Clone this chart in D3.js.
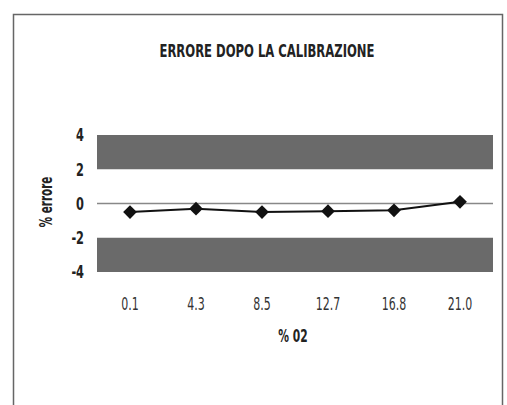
<!DOCTYPE html>
<html><head><meta charset="utf-8">
<script src="https://cdn.jsdelivr.net/npm/d3@7"></script>
<style>body{margin:0;background:#fff}</style>
</head><body>
<svg id="c" width="507" height="405"></svg>
<script>
const categories = ["0.1","4.3","8.5","12.7","16.8","21.0"];
const errors = [-0.5, -0.3, -0.5, -0.45, -0.4, 0.1];
const yTicks = [4, 2, 0, -2, -4];
const bands = [[2,4],[-4,-2]];

const svg = d3.select("#c");
const font = "'DejaVu Sans Condensed','Liberation Sans',sans-serif";
function condense(sel, f){
  sel.each(function(){
    const w = this.getComputedTextLength();
    d3.select(this).attr("textLength", w*f).attr("lengthAdjust","spacingAndGlyphs");
  });
}
svg.append("rect").attr("x",13.5).attr("y",14.5).attr("width",489).attr("height",400)
  .attr("fill","#fff").attr("stroke","#666").attr("stroke-width",1.5);

const m = {l:97, r:493, t:135, b:272};
const x = d3.scaleBand().domain(categories).range([m.l,m.r]);
const y = d3.scaleLinear().domain([-4,4]).range([m.b,m.t]);

bands.forEach(b=>{
  svg.append("rect").attr("x",m.l).attr("width",m.r-m.l)
    .attr("y",y(b[1])).attr("height",y(b[0])-y(b[1])).attr("fill","#6a6a6a");
});
svg.append("line").attr("x1",m.l).attr("x2",m.r).attr("y1",y(0)).attr("y2",y(0))
  .attr("stroke","#888").attr("stroke-width",1.5);

const title = svg.append("text").attr("x",267).attr("y",57).attr("text-anchor","middle")
  .attr("font-family",font).attr("font-weight","bold").attr("font-size",17)
  .attr("fill","#222").text("ERRORE DOPO LA CALIBRAZIONE");
title.attr("textLength",215).attr("lengthAdjust","spacingAndGlyphs");

const ya = svg.append("g").attr("transform",`translate(${m.l},0)`)
  .call(d3.axisLeft(y).tickValues(yTicks).tickSize(0).tickPadding(13).tickFormat(d=>String(d)));
ya.select(".domain").remove();
ya.selectAll("text").attr("font-family",font).attr("font-weight","bold").attr("font-size",18).attr("fill","#222");
condense(ya.selectAll("text"), 0.7);

const xa = svg.append("g").attr("transform",`translate(0,${m.b})`)
  .call(d3.axisBottom(x).tickSize(0).tickPadding(25));
xa.select(".domain").remove();
xa.selectAll("text").attr("font-family",font).attr("font-size",18).attr("fill","#333");
condense(xa.selectAll("text"), 0.68);

const yl = svg.append("text").attr("transform","translate(52,202) rotate(-90)").attr("text-anchor","middle")
  .attr("font-family",font).attr("font-weight","bold").attr("font-size",17).attr("fill","#222").text("% errore");
condense(yl, 0.68);
const xl = svg.append("text").attr("x",293).attr("y",342).attr("text-anchor","middle")
  .attr("font-family",font).attr("font-weight","bold").attr("font-size",17).attr("fill","#222").text("% 02");
condense(xl, 0.7);

const pts = categories.map((c,i)=>[x(c)+x.bandwidth()/2, y(errors[i])]);
svg.append("path").attr("d",d3.line()(pts)).attr("fill","none").attr("stroke","#111").attr("stroke-width",2);
svg.selectAll(".pt").data(pts).enter().append("path")
  .attr("d",d3.symbol(d3.symbolDiamond2 || d3.symbolDiamond, 120)()).attr("fill","#111")
  .attr("transform",d=>`translate(${d[0]},${d[1]})`);
</script>
</body></html>
